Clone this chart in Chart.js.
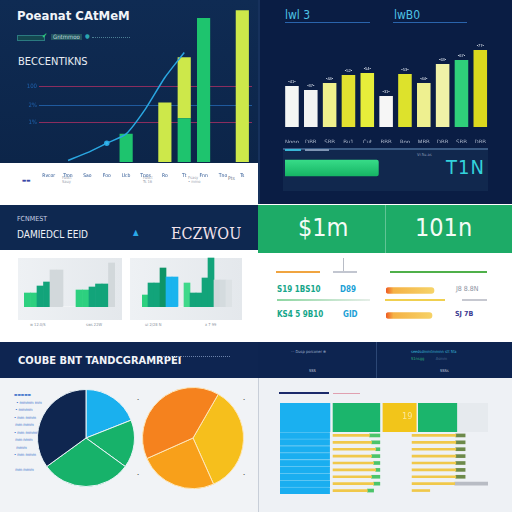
<!DOCTYPE html>
<html><head><meta charset="utf-8">
<script src="https://cdn.jsdelivr.net/npm/chart.js@4.4.1/dist/chart.umd.min.js"></script>
<style>
html,body{margin:0;padding:0;width:512px;height:512px;overflow:hidden;background:#fff;
  font-family:"DejaVu Sans Condensed","Liberation Sans Narrow","DejaVu Sans",sans-serif}
.b{position:absolute}
.t{position:absolute;white-space:nowrap;line-height:1}
.c{position:absolute}
</style></head><body>

<!-- fondos de paneles -->
<div class="b" style="left:0;top:0;width:258px;height:163px;background:linear-gradient(#0f2b53,#0c2549)"></div>
<div class="b" style="left:258px;top:0;width:254px;height:204px;background:#0a1d44;border-left:2px solid #16315c"></div>
<div class="b" style="left:0;top:205px;width:258px;height:45px;background:#0e2850"></div>
<div class="b" style="left:18px;top:258px;width:104px;height:62px;background:linear-gradient(90deg,#eef1f4,#e4e8ec)"></div>
<div class="b" style="left:130px;top:258px;width:112px;height:62px;background:linear-gradient(90deg,#eef1f4,#e4e8ec)"></div>
<div class="b" style="left:258px;top:205px;width:254px;height:48px;background:#1dab67"></div>
<div class="b" style="left:385px;top:205px;width:1px;height:48px;background:rgba(255,255,255,.3)"></div>
<div class="b" style="left:0;top:342px;width:258px;height:36px;background:#0e2551"></div>
<div class="b" style="left:0;top:378px;width:258px;height:134px;background:#f1f3f6"></div>
<div class="b" style="left:258px;top:342px;width:254px;height:36px;background:#0d2450"></div>
<div class="b" style="left:376px;top:342px;width:1px;height:36px;background:#2c4775"></div>
<div class="b" style="left:258px;top:378px;width:254px;height:134px;background:#eef1f5;border-left:1px solid #c8ced8"></div>

<!-- textos arriba izquierda -->
<div class="t" style="left:17px;top:9px;font-size:13px;font-weight:bold;color:#f2f4f8">Poeanat CAtMeM</div>
<div class="b" style="left:17px;top:35px;width:26px;height:4px;border:1px solid #2b7a80;background:#14474f"></div>
<div class="t" style="left:42px;top:33px;font-size:7px;color:#2fd07a">✔</div>
<div class="t" style="left:51px;top:34px;font-size:6px;color:#b9d7dc;background:#23535e;padding:0 2px">Gntmmoo</div>
<div class="t" style="left:85px;top:33px;font-size:6px;color:#2aa6b0">●</div>
<div class="b" style="left:92px;top:37px;width:38px;height:1px;border-top:1px dotted #4c7f95"></div>
<div class="t" style="left:18px;top:56px;font-size:11px;color:#e8ecf4">BECCENTIKNS</div>
<div class="t" style="left:22px;top:178px;font-size:5px;color:#3a48a6">▬▬</div>
<div class="t" style="left:62px;top:176px;font-size:4px;color:#9aa3b0">Fuoct<br>Sauy</div>
<div class="t" style="left:143px;top:176px;font-size:4px;color:#9aa3b0">Fuoct<br>Ts 16</div>
<div class="t" style="left:188px;top:176px;font-size:4px;color:#9aa3b0">Fsasy<br>• mmo</div>
<div class="t" style="left:228px;top:176px;font-size:5px;color:#6a7180">Pts</div>

<!-- textos arriba derecha -->
<div class="t" style="left:285px;top:9px;font-size:12px;color:#4ec4e6">lwl 3</div>
<div class="b" style="left:285px;top:22px;width:85px;height:1px;background:#2a64ac"></div>
<div class="t" style="left:394px;top:9px;font-size:12px;color:#4ec4e6">lwB0</div>
<div class="b" style="left:393px;top:22px;width:74px;height:1px;background:#2a64ac"></div>
<div class="b" style="left:283px;top:148px;width:205px;height:41px;background:#11284e;border-top:2px solid #3a5a84"></div>
<div class="b" style="left:285px;top:149px;width:16px;height:2px;background:#39b6d6"></div>
<div class="b" style="left:305px;top:149px;width:24px;height:2px;background:#7f95b4"></div>
<div class="t" style="left:417px;top:153px;font-size:4px;color:#8a9bb6">Vr.5u.as</div>
<div class="t" style="left:446px;top:157px;font-size:20px;color:#33d2dc;letter-spacing:1px">T1N</div>

<!-- textos medio -->
<div class="t" style="left:17px;top:216px;font-size:7px;color:#c8d2e4">FCNMEST</div>
<div class="t" style="left:17px;top:230px;font-size:10px;color:#f0f2f8">DAMIEDCL EEID</div>
<div class="t" style="left:133px;top:229px;font-size:8px;color:#2aa8e8">▲</div>
<div class="t" style="left:171px;top:226px;font-size:16px;font-family:'DejaVu Serif Condensed','DejaVu Serif',serif;color:#f3e3ec">ECZWOU</div>
<div class="t" style="left:30px;top:323px;font-size:4px;color:#8a93a0">w 12.0/S</div>
<div class="t" style="left:86px;top:323px;font-size:4px;color:#8a93a0">sws 22W</div>
<div class="t" style="left:145px;top:323px;font-size:4px;color:#8a93a0">ui 2/28 N</div>
<div class="t" style="left:205px;top:323px;font-size:4px;color:#8a93a0">x 7 99</div>
<div class="t" style="left:298px;top:215px;font-size:25px;color:#f4fbf6">$1m</div>
<div class="t" style="left:415px;top:215px;font-size:25px;color:#f4fbf6">101n</div>
<div class="b" style="left:276px;top:271px;width:44px;height:2px;background:#f0a440"></div>
<div class="b" style="left:343px;top:258px;width:1px;height:14px;background:#b8bcc6"></div>
<div class="b" style="left:333px;top:271px;width:24px;height:2px;background:#c2c6d0"></div>
<div class="b" style="left:390px;top:271px;width:97px;height:2px;background:#4fb04a"></div>
<div class="t" style="left:277px;top:286px;font-size:8px;font-weight:bold;color:#16a68a">S19 1BS10</div>
<div class="t" style="left:340px;top:286px;font-size:8px;font-weight:bold;color:#1b9fd6">D89</div>
<div class="t" style="left:456px;top:286px;font-size:7px;color:#8a90a0">J8 8.8N</div>
<div class="b" style="left:277px;top:299px;width:93px;height:2px;background:linear-gradient(90deg,#8ed6a2,#e6eee8)"></div>
<div class="b" style="left:385px;top:299px;width:60px;height:2px;background:#f0d050"></div>
<div class="b" style="left:462px;top:299px;width:25px;height:2px;background:#c6c8d0"></div>
<div class="t" style="left:277px;top:311px;font-size:8px;font-weight:bold;color:#16a68a">KS4 5 9B10</div>
<div class="t" style="left:343px;top:311px;font-size:8px;font-weight:bold;color:#1b9fd6">GID</div>
<div class="t" style="left:455px;top:311px;font-size:7px;font-weight:bold;color:#3b3b92">SJ 7B</div>

<!-- textos abajo -->
<div class="t" style="left:18px;top:355px;font-size:11px;font-weight:bold;color:#f2f4f8">COUBE BNT TANDCGRAMRPEI</div>
<div class="b" style="left:163px;top:356px;width:67px;height:1px;border-top:1px dotted #6b82aa"></div>
<div class="t" style="left:14px;top:391px;font-size:4px;line-height:7.5px;color:#2e68c8">▬▬▬▬▬<br>&nbsp;&nbsp;• mmmm mm<br>&nbsp;• mmmm<br>• mm mmm<br>&nbsp;mm mmm<br>• mm mmmm<br>&nbsp;mm nmm<br>&nbsp;&nbsp;mmm<br>• mm mmm<br><br>&nbsp;mm mmm</div>
<div class="t" style="left:49px;top:436px;font-size:5px;color:#9fb0d0">Fuuss</div>
<div class="t" style="left:165px;top:423px;font-size:4px;color:#c2571a">Tlus</div>
<div class="t" style="left:225px;top:437px;font-size:4px;color:#c08a10">Ilar</div>
<div class="t" style="left:188px;top:476px;font-size:4px;color:#c06a10">Ahss</div>
<div class="t" style="left:152px;top:437px;font-size:4px;color:#fbe0c0">Rns</div>
<div class="t" style="left:137px;top:398px;font-size:4px;color:#555">•</div>
<div class="t" style="left:243px;top:398px;font-size:4px;color:#555">•</div>
<div class="t" style="left:137px;top:473px;font-size:4px;color:#555">•</div>
<div class="t" style="left:243px;top:473px;font-size:4px;color:#555">•</div>
<div class="t" style="left:291px;top:350px;font-size:4px;color:#9fb0cc">··· Dusp porconer ⊕</div>
<div class="t" style="left:309px;top:369px;font-size:4px;color:#c0c8d8">SSS</div>
<div class="t" style="left:411px;top:350px;font-size:4px;color:#3ab8d8">seedsdmmtmmnn stt 5fa</div>
<div class="t" style="left:411px;top:357px;font-size:4px;color:#2fae7a">S1nsgg &nbsp;&nbsp;&nbsp;&nbsp;&nbsp;&nbsp;&nbsp;&nbsp;&nbsp;<span style="color:#4a6a90">Asmm</span></div>
<div class="t" style="left:440px;top:369px;font-size:4px;color:#c0c8d8">SSSs</div>
<div class="b" style="left:279px;top:392px;width:50px;height:2px;background:#1c2a6a"></div>
<div class="b" style="left:333px;top:393px;width:27px;height:1px;background:#e0a0b0"></div>

<div class="c" style="left:18px;top:0;width:234px;height:192px"><canvas id="cTL"></canvas></div>
<div class="c" style="left:281px;top:0;width:209px;height:143px"><canvas id="cTR"></canvas></div>
<div class="c" style="left:285px;top:158px;width:203px;height:20px"><canvas id="cProg"></canvas></div>
<div class="c" style="left:24px;top:247px;width:91px;height:60px"><canvas id="cCard1"></canvas></div>
<div class="c" style="left:142px;top:247px;width:90px;height:60px"><canvas id="cCard2"></canvas></div>
<div class="c" style="left:386px;top:278px;width:100px;height:50px"><canvas id="cOrange"></canvas></div>
<div class="c" style="left:37px;top:389px;width:98px;height:98px"><canvas id="cPie1"></canvas></div>
<div class="c" style="left:142px;top:387px;width:102px;height:102px"><canvas id="cPie2"></canvas></div>
<div class="c" style="left:280px;top:403px;width:208px;height:29px"><canvas id="cHead"></canvas></div>
<div class="c" style="left:280px;top:432px;width:208px;height:62px"><canvas id="cRows"></canvas></div>
<div class="t" style="left:402px;top:412px;font-size:9px;color:#fbe79a">19</div>

<script>
// DATOS
// arriba izquierda (barras + tendencia)
const tlLabels = ['Rvcor','Tron','Sao','Foo','Ucb','Tnos','Ro','Tt','Fnn','Tno','Ts'];
const tlGreen  = [null,null,null,null,18,null,null,28,92,null,null];
const tlYellow = [null,null,null,null,null,null,38,39,null,null,97];
const tlTrend  = [null,1,6,12,18,34,54,70,null,null,null];
const tlTicks  = [25,36,48];
const tlTickLabels = ['1%','2%','100'];
const tlGridColors = ['#8b2d5e','#1f5a9e','#8b2d5e'];

// arriba derecha
const trLabels = ['Nooo','DBB','SBB','Bu1','Cut','BBB','Roo','MBB','DBB','SBB','DBB'];
const trValues = [41,37,44,52,54,31,53,44,63,67,77];
const trColors = ['#f4f6f4','#f2f4f2','#eef08c','#e2e030','#e6ee3a','#f6f6f6','#dde22c','#eef090','#f0f2a8','#2fcf7a','#dcd81e'];
const progLabels = ['T1N'];
const progValues = [46];

// tarjetas del medio
const card1Values = [14,14,21,25,37,37,0,0,17,17,20,23,23,44];
const card1Colors = ['#2dd07f','#2dd07f','#12a47a','#12a47a','#d2d8db','#d2d8db','#fff','#fff','#2dd07f','#2dd07f','#12a47a','#12a47a','#12a47a','#d2d8db'];
const card2Values = [12,24,24,39,30,30,0,24,14,14,29,49,27,27,27];
const card2Colors = ['#2dd07f','#12a47a','#12a47a','#0e9466','#1ab4ee','#1ab4ee','#fff','#3fd88a','#12a47a','#12a47a','#12a47a','#12a47a','#d0d8db','#d4dbde','#dde2e5'];

// barras naranjas
const orangeLabels = ['D89','GID'];
const orangeValues = [48,46];

// tartas
const pie1Labels = ['Ccol','Tnas','Fors','Fuuss'];
const pie1Values = [19,16,30,35];
const pie1Colors = ['#1ab0ee','#17b26a','#17b26a','#0f2650'];
const pie2Labels = ['Ilar','Ahss','Tlus'];
const pie2Values = [35,25,40];
const pie2Colors = ['#f6bf1c','#f8a01a','#f5821e'];

// tabla abajo derecha
const headSegments = [[0,24],[25.5,48],[49.5,65.5],[66.5,85],[85,100]];
const headColors = ['#1ab0f0','#1bb56c','#f2c51a','#1bb56c','#e6eaee'];
const rowLabels = ['r1','r2','r3','r4','r5','r6','r7','r8','r9'];
const rowBlue   = [[0,24],[0,24],[0,24],[0,24],[0,24],[0,24],[0,24],[0,24],[0,24]];
const rowMid    = [[25.5,43],[25.5,44],[25.5,46],[25.5,44],[25.5,45],[25.5,46],[25.5,44],[25.5,45],[25.5,42]];
const rowMidTip = [[43,48],[44,48],[46,48],[44,48],[45,48],[46,48],[44,48],[45,48],[42,45]];
const rowRight  = [[63.5,84.5],[63.5,84.5],[63.5,84.5],[63.5,84.5],[63.5,84.5],[63.5,84.5],[63.5,84.5],[63.5,84],[63.5,72]];
const rowRightTip = [[84.5,89],[84.5,89],[84.5,89],[84.5,89],[84.5,89],[84.5,89],[84.5,89],[84,100],[null,null]];

Chart.defaults.animation = false;
Chart.defaults.plugins.legend.display = false;
Chart.defaults.plugins.tooltip.enabled = false;
Chart.defaults.font.family = '"DejaVu Sans Condensed","DejaVu Sans",sans-serif';

const noAxis = { display: false };

// 1. arriba izquierda
new Chart(document.getElementById('cTL'), {
  type: 'bar',
  data: {
    labels: tlLabels,
    datasets: [
      { type: 'line', data: tlTrend, stack: 'line', borderColor: '#2aa6e0', borderWidth: 1.5,
        pointRadius: [0,0,0,2,0,0,0,0], pointBackgroundColor: '#36b8f0', tension: 0.2, order: 0 },
      { data: tlGreen, backgroundColor: '#1ec46e', barPercentage: 0.68, categoryPercentage: 1, order: 1 },
      { data: tlYellow, backgroundColor: '#cde84a', barPercentage: 0.68, categoryPercentage: 1, order: 1 }
    ]
  },
  options: {
    responsive: true, maintainAspectRatio: false,
    layout: { padding: { top: 5, right: 0 } },
    scales: {
      x: { stacked: true, grid: { display: false }, border: { display: false },
           ticks: { color: '#24508f', font: { size: 5 }, padding: 3, maxRotation: 0 },
           afterFit: s => { s.height = 30; } },
      y: { stacked: true, min: 0, max: 100, border: { display: false },
           afterBuildTicks: s => { s.ticks = tlTicks.map(v => ({ value: v })); },
           afterFit: s => { s.width = 21; },
           grid: { color: c => tlGridColors[c.index], drawTicks: false },
           ticks: { color: '#1f63b0', font: { size: 6 }, padding: 2, callback: (v, i) => tlTickLabels[i] } }
    }
  }
});

// 2. arriba derecha
const valueLabels = {
  id: 'valueLabels',
  afterDatasetsDraw(chart) {
    const ctx = chart.ctx;
    ctx.save();
    ctx.fillStyle = '#e8eef8';
    ctx.font = '4px sans-serif';
    ctx.textAlign = 'center';
    chart.getDatasetMeta(0).data.forEach((bar, i) => {
      ctx.fillText('•' + trValues[i] + '•', bar.x, bar.y - 3);
    });
    ctx.restore();
  }
};
new Chart(document.getElementById('cTR'), {
  type: 'bar',
  data: { labels: trLabels, datasets: [{ data: trValues, backgroundColor: trColors,
          barPercentage: 0.72, categoryPercentage: 1 }] },
  options: {
    responsive: true, maintainAspectRatio: false,
    layout: { padding: { top: 27 } },
    scales: {
      x: { grid: { display: false }, border: { display: false },
           ticks: { color: '#a9b4c8', font: { size: 6 }, padding: 4, maxRotation: 0 },
           afterFit: s => { s.height = 16; } },
      y: { display: false, min: 0, max: 100 }
    }
  },
  plugins: [valueLabels]
});

// barra de progreso
new Chart(document.getElementById('cProg'), {
  type: 'bar',
  data: { labels: progLabels, datasets: [{ data: progValues, barThickness: 16, borderRadius: 2,
    backgroundColor: c => {
      const a = c.chart.chartArea; if (!a) return '#22cc78';
      const g = c.chart.ctx.createLinearGradient(0, a.top, 0, a.bottom);
      g.addColorStop(0, '#3be08c'); g.addColorStop(1, '#12b060'); return g;
    } }] },
  options: { indexAxis: 'y', responsive: true, maintainAspectRatio: false,
    scales: { x: { display: false, min: 0, max: 100 }, y: { display: false } } }
});

// tarjetas
function cardChart(id, values, colors) {
  new Chart(document.getElementById(id), {
    type: 'bar',
    data: { labels: values.map((v, i) => 'c' + i),
            datasets: [{ data: values, backgroundColor: colors, barPercentage: 1, categoryPercentage: 1 }] },
    options: { responsive: true, maintainAspectRatio: false,
      scales: { x: noAxis, y: { display: false, min: 0, max: 60 } } }
  });
}
cardChart('cCard1', card1Values, card1Colors);
cardChart('cCard2', card2Values, card2Colors);

// barras naranjas
new Chart(document.getElementById('cOrange'), {
  type: 'bar',
  data: { labels: orangeLabels, datasets: [{ data: orangeValues, barThickness: 6, borderRadius: 3, borderSkipped: false,
    backgroundColor: c => {
      const a = c.chart.chartArea; if (!a) return '#f5b040';
      const g = c.chart.ctx.createLinearGradient(a.left, 0, a.left + (a.right - a.left) * 0.5, 0);
      g.addColorStop(0, '#ee5a22'); g.addColorStop(0.15, '#f5b245'); g.addColorStop(1, '#f6d56a'); return g;
    } }] },
  options: { indexAxis: 'y', responsive: true, maintainAspectRatio: false,
    scales: { x: { display: false, min: 0, max: 100 }, y: noAxis } }
});

// tartas
new Chart(document.getElementById('cPie1'), {
  type: 'pie',
  data: { labels: pie1Labels, datasets: [{ data: pie1Values, backgroundColor: pie1Colors, borderColor: '#e8f2f6', borderWidth: 1 }] },
  options: { responsive: true, maintainAspectRatio: false }
});
new Chart(document.getElementById('cPie2'), {
  type: 'pie',
  data: { labels: pie2Labels, datasets: [{ data: pie2Values, backgroundColor: pie2Colors, borderColor: '#fde6b8', borderWidth: 1 }] },
  options: { responsive: true, maintainAspectRatio: false, rotation: 30 }
});

// tabla
new Chart(document.getElementById('cHead'), {
  type: 'bar',
  data: { labels: ['h'], datasets: headSegments.map((s, i) => ({
    data: [s], backgroundColor: headColors[i], barPercentage: 1, categoryPercentage: 1, grouped: false })) },
  options: { indexAxis: 'y', responsive: true, maintainAspectRatio: false,
    scales: { x: { display: false, min: 0, max: 100 }, y: noAxis } }
});
new Chart(document.getElementById('cRows'), {
  type: 'bar',
  data: { labels: rowLabels, datasets: [
    { data: rowBlue, backgroundColor: '#1aaef0', borderColor: '#5cc6f4', borderWidth: { top: 1, bottom: 0, left: 0, right: 0 },
      borderSkipped: false, barPercentage: 1, categoryPercentage: 1, grouped: false },
    { data: rowMid, backgroundColor: '#f0c84a', barThickness: 2, grouped: false },
    { data: rowMidTip, backgroundColor: '#4cc46a', barThickness: 3, grouped: false },
    { data: rowRight, backgroundColor: '#f0c84a', barThickness: 2, grouped: false },
    { data: rowRightTip, backgroundColor: ['#6d8a4a','#6d8a4a','#6d8a4a','#6d8a4a','#6d8a4a','#6d8a4a','#6d8a4a','#b8bcc4','#6d8a4a'], barThickness: 3, grouped: false }
  ] },
  options: { indexAxis: 'y', responsive: true, maintainAspectRatio: false,
    scales: { x: { display: false, min: 0, max: 100 }, y: noAxis } }
});
</script>
</body></html>
